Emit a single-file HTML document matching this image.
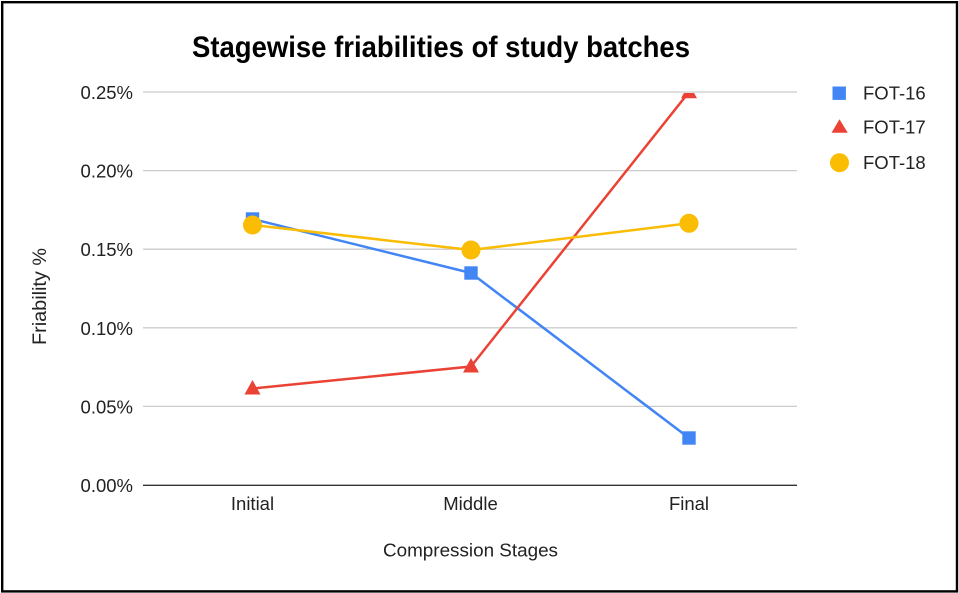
<!DOCTYPE html>
<html>
<head>
<meta charset="utf-8">
<style>
  html, body { margin: 0; padding: 0; background: #fff; }
  svg { display: block; }
  text { font-family: "Liberation Sans", Arial, sans-serif; fill: #222; }
</style>
</head>
<body>
<svg width="959" height="593" viewBox="0 0 959 593" xmlns="http://www.w3.org/2000/svg">
  <rect x="0" y="0" width="959" height="593" fill="#fff"/>
  <rect x="2.2" y="2.2" width="954.8" height="589.2" fill="none" stroke="#000" stroke-width="2.4"/>

  <!-- Title -->
  <text x="441" y="57" text-anchor="middle" font-size="30" font-weight="bold" fill="#000" style="fill:#000" textLength="498" lengthAdjust="spacingAndGlyphs">Stagewise friabilities of study batches</text>

  <!-- Gridlines -->
  <g stroke="#cccccc" stroke-width="1.3">
    <line x1="143" y1="92" x2="797" y2="92"/>
    <line x1="143" y1="170.6" x2="797" y2="170.6"/>
    <line x1="143" y1="249.2" x2="797" y2="249.2"/>
    <line x1="143" y1="327.8" x2="797" y2="327.8"/>
    <line x1="143" y1="406.4" x2="797" y2="406.4"/>
  </g>
  <line x1="143" y1="485.3" x2="797" y2="485.3" stroke="#333" stroke-width="1.4"/>

  <!-- Y tick labels -->
  <g font-size="18.5" text-anchor="end">
    <text x="133" y="99">0.25%</text>
    <text x="133" y="177.6">0.20%</text>
    <text x="133" y="256.2">0.15%</text>
    <text x="133" y="334.8">0.10%</text>
    <text x="133" y="413.4">0.05%</text>
    <text x="133" y="492">0.00%</text>
  </g>

  <!-- X tick labels -->
  <g font-size="18.5" text-anchor="middle">
    <text x="252.5" y="510">Initial</text>
    <text x="470.5" y="510">Middle</text>
    <text x="689" y="510">Final</text>
  </g>

  <!-- Axis titles -->
  <text x="470.5" y="556.5" font-size="18.8" text-anchor="middle" textLength="175" lengthAdjust="spacingAndGlyphs">Compression Stages</text>
  <text transform="translate(46,296.5) rotate(-90)" font-size="19.5" text-anchor="middle" textLength="97" lengthAdjust="spacingAndGlyphs">Friability %</text>

  <defs>
    <clipPath id="plot">
      <rect x="130" y="93" width="680" height="400"/>
    </clipPath>
  </defs>

  <g clip-path="url(#plot)">
    <!-- FOT-16 -->
    <polyline points="252.5,219 471,273 689,438" fill="none" stroke="#4285F4" stroke-width="2.5" stroke-linejoin="round"/>
    <g fill="#4285F4">
      <rect x="245.8" y="212.3" width="13.4" height="13.4"/>
      <rect x="464.3" y="266.3" width="13.4" height="13.4"/>
      <rect x="682.3" y="431.3" width="13.4" height="13.4"/>
    </g>

    <!-- FOT-17 -->
    <polyline points="252.5,388.5 471,366.5 689,92" fill="none" stroke="#EA4335" stroke-width="2.5" stroke-linejoin="round"/>
    <g fill="#EA4335">
      <polygon points="252.5,380 244.5,394.5 260.5,394.5"/>
      <polygon points="471,358 463,372.5 479,372.5"/>
      <polygon points="689,83.8 681,98.3 697,98.3"/>
    </g>

    <!-- FOT-18 -->
    <polyline points="252.5,225 471,250 689,223.3" fill="none" stroke="#FBBC04" stroke-width="2.5" stroke-linejoin="round"/>
    <g fill="#FBBC04">
      <circle cx="252.5" cy="225" r="9.5"/>
      <circle cx="471" cy="250" r="9.5"/>
      <circle cx="689" cy="223.3" r="9.5"/>
    </g>
  </g>

  <!-- Legend -->
  <rect x="832.5" y="86.5" width="13.4" height="13.4" fill="#4285F4"/>
  <polygon points="839.5,119.3 831.5,132.8 847.8,132.8" fill="#EA4335"/>
  <circle cx="839.5" cy="162.7" r="9.5" fill="#FBBC04"/>
  <g font-size="18.5">
    <text x="863" y="99.5">FOT-16</text>
    <text x="863" y="133.5">FOT-17</text>
    <text x="863" y="169">FOT-18</text>
  </g>
</svg>
</body>
</html>
